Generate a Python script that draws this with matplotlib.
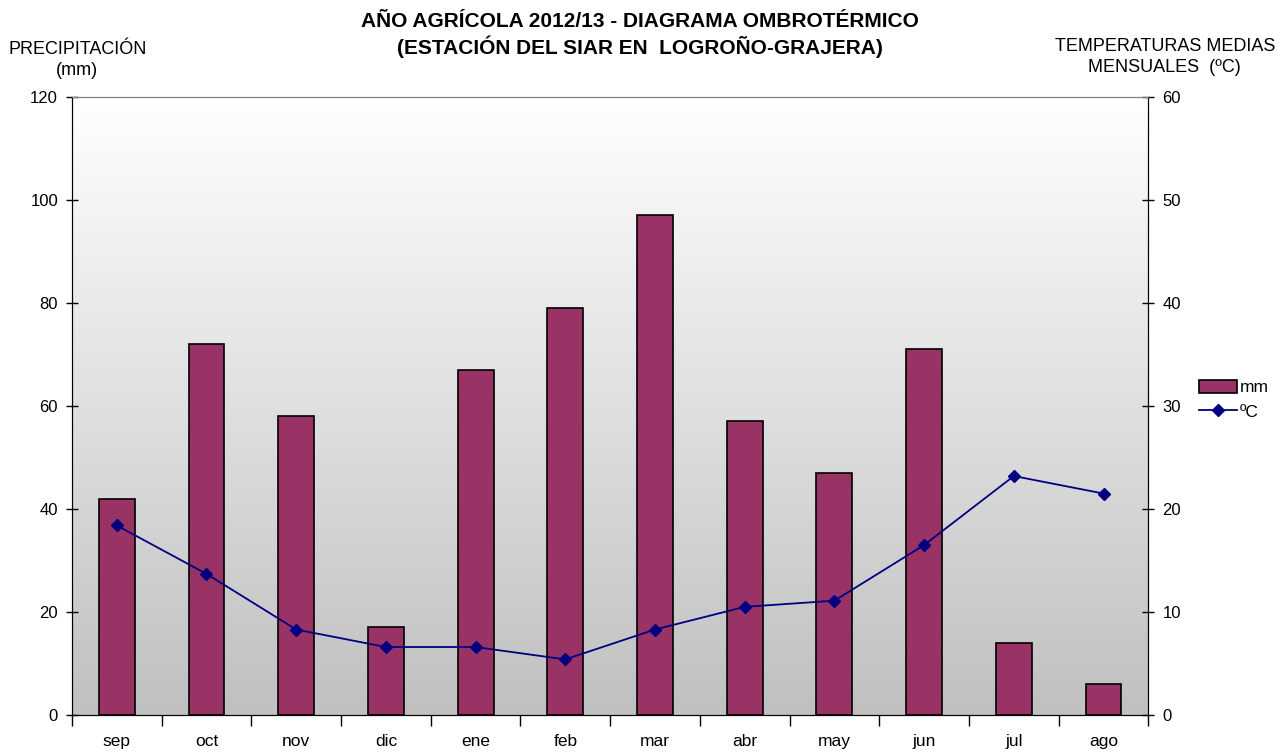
import matplotlib
matplotlib.use("Agg")
import matplotlib.pyplot as plt
import numpy as np
from matplotlib.colors import LinearSegmentedColormap
from matplotlib.lines import Line2D
from matplotlib.patches import Patch

plt.rcParams["font.family"] = ["Liberation Sans", "DejaVu Sans"]

months = ["sep", "oct", "nov", "dic", "ene", "feb", "mar", "abr", "may", "jun", "jul", "ago"]
rain_mm = [42, 72, 58, 17, 67, 79, 97, 57, 47, 71, 14, 6]
temp_c = [18.4, 13.7, 8.3, 6.6, 6.6, 5.4, 8.3, 10.5, 11.1, 16.5, 23.2, 21.5]

BAR_COLOR = "#993366"
LINE_COLOR = "#000080"

fig = plt.figure(figsize=(12.87, 7.54), dpi=100)
ax = fig.add_axes([0.0559, 0.0517, 0.8364, 0.8197])
ax2 = ax.twinx()

x = np.arange(len(months))

# gradient background, white at top to light grey at bottom
grad = np.linspace(1, 0, 256)[:, None]
cmap = LinearSegmentedColormap.from_list("bg", ["#c0c0c0", "#ffffff"])
ax.imshow(grad, extent=[-0.5, 11.5, 0, 120], aspect="auto", cmap=cmap,
          origin="upper", zorder=0)

ax.bar(x, rain_mm, width=0.4, color=BAR_COLOR, edgecolor="black",
       linewidth=1.2, zorder=2)
ax2.plot(x, temp_c, color=LINE_COLOR, linewidth=1.3, marker="D",
         markersize=6.5, zorder=3)

ax.set_xlim(-0.5, 11.5)
ax.set_ylim(0, 120)
ax2.set_ylim(0, 60)
ax.set_yticks(np.arange(0, 121, 20))
ax2.set_yticks(np.arange(0, 61, 10))

ax.set_xticks(np.arange(-0.5, 12, 1))
ax.set_xticklabels([])
ax.set_xticks(x, minor=True)
ax.set_xticklabels(months, minor=True)
ax.tick_params(axis="x", which="major", direction="out", length=8, width=1)
ax.tick_params(axis="x", which="minor", length=0, pad=14, labelsize=12.5)
ax.tick_params(axis="y", direction="inout", length=8, width=1, labelsize=12, pad=6)
ax2.tick_params(axis="y", direction="inout", length=8, width=1, labelsize=12, pad=6)

for a in (ax, ax2):
    a.spines["top"].set_color("#808080")
    for side in ("left", "right", "bottom"):
        a.spines[side].set_color("black")

fig.text(0.497, 0.984, "AÑO AGRÍCOLA 2012/13 - DIAGRAMA OMBROTÉRMICO\n"
         "(ESTACIÓN DEL SIAR EN  LOGROÑO-GRAJERA)",
         ha="center", va="top", fontsize=15, fontweight="bold", linespacing=1.25)
fig.text(0.060, 0.946, "PRECIPITACIÓN\n(mm)", ha="center", va="top",
         fontsize=13, linespacing=1.35)
fig.text(0.905, 0.950, "TEMPERATURAS MEDIAS\nMENSUALES  (ºC)", ha="center",
         va="top", fontsize=13, linespacing=1.35)

handles = [
    Patch(facecolor=BAR_COLOR, edgecolor="black", linewidth=1.2, label="mm"),
    Line2D([0], [0], color=LINE_COLOR, marker="D", markersize=6.5, linewidth=1.3,
           label="ºC"),
]
fig.legend(handles=handles, loc="center left", bbox_to_anchor=(0.926, 0.470),
           frameon=False, fontsize=12.5, handlelength=2.2, handleheight=0.8,
           handletextpad=0.15, labelspacing=0.5, borderaxespad=0)

fig.savefig("out.png", dpi=100)
